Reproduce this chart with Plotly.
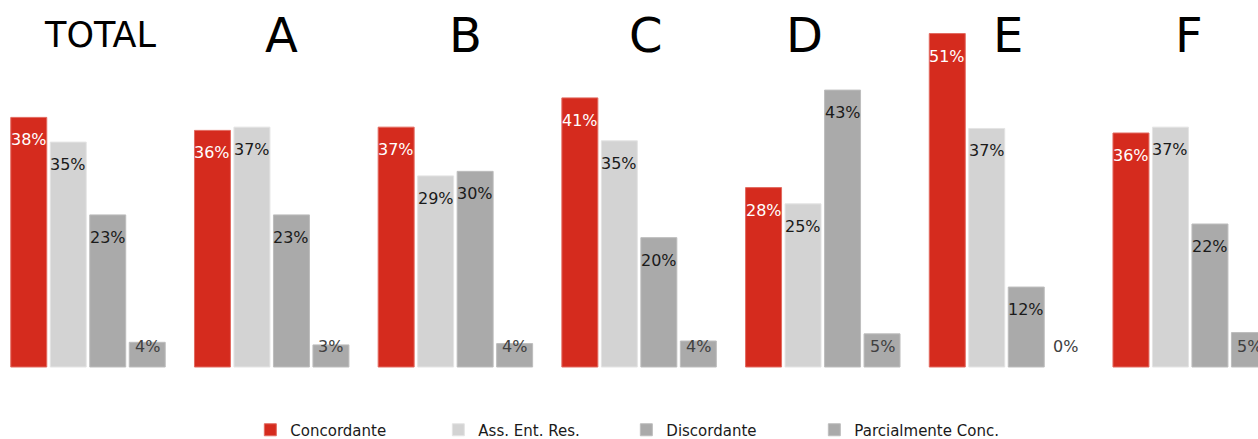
import plotly.graph_objects as go

# ---- data ----
groups = ["TOTAL", "A", "B", "C", "D", "E", "F"]
series_names = ["Concordante", "Ass. Ent. Res.", "Discordante", "Parcialmente Conc."]
concordante = [38.4, 36.4, 36.9, 41.4, 27.6, 51.3, 36.0]
ass_ent_res = [34.6, 36.9, 29.4, 34.8, 25.1, 36.7, 36.9]
discordante = [23.4, 23.4, 30.1, 19.9, 42.6, 12.3, 22.0]
parcialmente = [3.8, 3.4, 3.6, 4.0, 5.1, 0.0, 5.3]
series_values = [concordante, ass_ent_res, discordante, parcialmente]

# ---- style ----
bar_colors = ["#D52B1E", "#D3D3D3", "#AAAAAA", "#AAAAAA"]
edge_colors = ["#E26A60", "#E4E4E4", "#BDBDBD", "#BDBDBD"]
label_colors = ["#FFFFFF", "#1A1A1A", "#1A1A1A", "#404040"]
title_sizes = [35, 48, 48, 48, 48, 48, 48]
title_xshift = [12, 10, 10, 7, -18, 1, -1]

W, H = 1258, 439
M_T = 20
BASE_PX = 367          # baseline position from top
K = 6.5                # px per unit
PLOT_H = H - M_T
YMAX = (BASE_PX - M_T) / K
YMIN = -(H - BASE_PX) / K

SLOT = 0.86 / 4
BW = SLOT * 0.911

fig = go.Figure()
annotations = []
for j, (name, vals) in enumerate(zip(series_names, series_values)):
    xs = [g + (j - 1.5) * SLOT for g in range(len(groups))]
    fig.add_trace(go.Bar(
        x=xs, y=vals, name=name, width=BW,
        marker=dict(color=bar_colors[j],
                    line=dict(color=edge_colors[j], width=[1 if v > 0 else 0 for v in vals])),
        hoverinfo="skip",
    ))
    for x, v in zip(xs, vals):
        ypix = max(v * K - 22.5, 20.5)
        annotations.append(dict(
            x=x, y=ypix / K, xref="x", yref="y", text=f"{v:.0f}%",
            showarrow=False, yanchor="middle", xanchor="center",
            font=dict(family="DejaVu Sans", size=16, color=label_colors[j]),
        ))

for i, g in enumerate(groups):
    annotations.append(dict(
        x=i, y=(H - 35) / PLOT_H, xref="x", yref="paper", text=g,
        showarrow=False, yanchor="middle", xanchor="center", xshift=title_xshift[i],
        font=dict(family="DejaVu Sans", size=title_sizes[i], color="#000000"),
    ))

x0 = -88 / 183.7
fig.update_layout(
    width=W, height=H,
    margin=dict(l=0, r=0, t=M_T, b=0, pad=0, autoexpand=False),
    plot_bgcolor="white", paper_bgcolor="white",
    barmode="overlay",
    xaxis=dict(range=[x0, x0 + W / 183.7], visible=False, fixedrange=True),
    yaxis=dict(range=[YMIN, YMAX], visible=False, fixedrange=True),
    showlegend=True,
    legend=dict(
        orientation="h", x=0.199, xanchor="left", y=(H - 430) / PLOT_H, yanchor="middle",
        font=dict(family="DejaVu Sans", size=15, color="#1A1A1A"),
        entrywidth=143, entrywidthmode="pixels", itemwidth=30,
        bgcolor="rgba(0,0,0,0)",
    ),
    annotations=annotations,
)

fig.write_html("out.html")
